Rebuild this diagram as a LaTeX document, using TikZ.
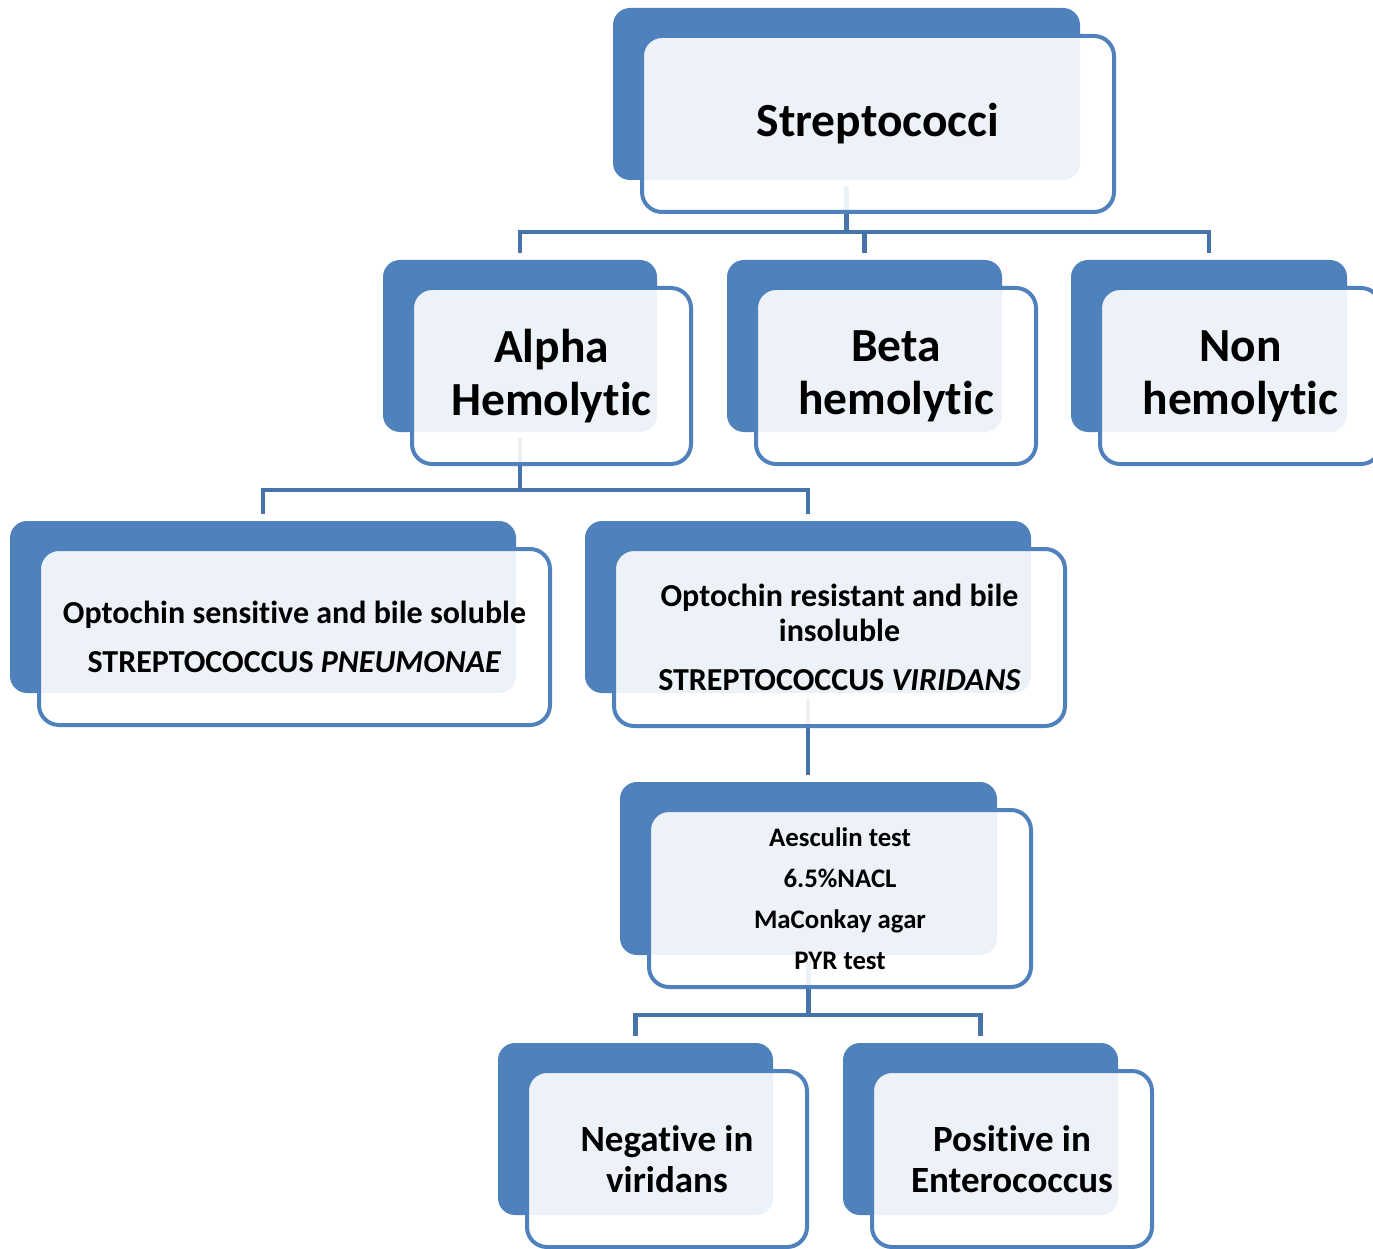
\documentclass[tikz,border=0pt]{standalone}
\usepackage{fontspec}
\setmainfont{Carlito}[RawFeature={-liga}]
\definecolor{accblue}{HTML}{4F81BD}
\definecolor{connblue}{HTML}{4673AA}
\begin{document}
\begin{tikzpicture}[x=1pt,y=-1pt,
  backbox/.style={fill=accblue, rounded corners=17pt, inner sep=0pt, outer sep=0pt, anchor=north west},
  frontbox/.style={draw=accblue, line width=4pt, fill=white, fill opacity=0.9, text opacity=1,
    rounded corners=20pt, inner sep=0pt, outer sep=0pt, anchor=north west, align=center, text=black},
  conn/.style={draw=connblue, line width=4.5pt},
  bigtxt/.style={font=\fontsize{47.5}{53}\selectfont\bfseries},
  midtxt/.style={font=\fontsize{32}{35}\selectfont\bfseries},
  smalltxt/.style={font=\fontsize{26.8}{41}\selectfont\bfseries},
  leaftxt/.style={font=\fontsize{37}{41}\selectfont\bfseries}]
\useasboundingbox (0,0) rectangle (1373,1249);
\clip (0,0) rectangle (1373,1249);
% back boxes
\node[backbox, minimum width=467pt, minimum height=172pt] (strB) at (613,8) {};
\node[backbox, minimum width=274pt, minimum height=172pt] (alphaB) at (383,260) {};
\node[backbox, minimum width=275pt, minimum height=172pt] (betaB) at (727,260) {};
\node[backbox, minimum width=276pt, minimum height=172pt] (nonB) at (1071,260) {};
\node[backbox, minimum width=506pt, minimum height=172pt] (pneB) at (10,521) {};
\node[backbox, minimum width=446pt, minimum height=172pt] (virB) at (585,521) {};
\node[backbox, minimum width=377pt, minimum height=173pt] (aesB) at (620,782) {};
\node[backbox, minimum width=275pt, minimum height=172pt] (negB) at (498,1043) {};
\node[backbox, minimum width=275pt, minimum height=172pt] (posB) at (843,1043) {};
% connectors
\coordinate (h1) at (0,232);
\coordinate (h2) at (0,490);
\coordinate (h3) at (0,1015);
\draw[conn] ([yshift=-6pt]strB.south) -- (strB.south |- h1);
\draw[conn] ([yshift=6.5pt]alphaB.north) -- (alphaB.north |- h1) -- (nonB.north |- h1) -- ([yshift=6.5pt]nonB.north);
\draw[conn] (betaB.north |- h1) -- ([yshift=6.5pt]betaB.north);
\draw[conn] ([yshift=-6pt]alphaB.south) -- (alphaB.south |- h2);
\draw[conn] ([yshift=7pt]pneB.north) -- (pneB.north |- h2) -- (virB.north |- h2) -- ([yshift=7pt]virB.north);
\draw[conn] ([yshift=-6pt]virB.south) -- ([yshift=7pt]virB.south |- aesB.north);
\draw[conn] ([yshift=-6pt]aesB.south) -- (aesB.south |- h3);
\draw[conn] ([yshift=7pt]negB.north) -- (negB.north |- h3) -- (posB.north |- h3) -- ([yshift=7pt]posB.north);
% front boxes
\node[frontbox, bigtxt, minimum width=472pt, minimum height=176pt] (str) at (642,36) {Streptococci};
\node[frontbox, bigtxt, minimum width=279pt, minimum height=176pt] (alpha) at (412,288) {Alpha\\Hemolytic};
\node[frontbox, bigtxt, minimum width=280pt, minimum height=176pt] (beta) at (756,288) {Beta\\hemolytic};
\node[frontbox, bigtxt, minimum width=281pt, minimum height=176pt] (non) at (1100,288) {Non\\hemolytic};
\node[frontbox, midtxt, minimum width=511pt, minimum height=176pt] (pne) at (39,549) {Optochin sensitive and bile soluble\\[14pt]STREPTOCOCCUS \textit{PNEUMONAE}};
\node[frontbox, midtxt, minimum width=451pt, minimum height=177pt] (vir) at (614,549) {Optochin resistant and bile\\insoluble\\[14pt]STREPTOCOCCUS \textit{VIRIDANS}};
\node[frontbox, smalltxt, minimum width=382pt, minimum height=177pt] (aes) at (649,810) {Aesculin test\\6.5\%NACL\\MaConkay agar\\PYR test};
\node[frontbox, leaftxt, minimum width=280pt, minimum height=176pt] (neg) at (527,1071) {Negative in\\viridans};
\node[frontbox, leaftxt, minimum width=280pt, minimum height=176pt] (pos) at (872,1071) {Positive in\\Enterococcus};
\end{tikzpicture}
\end{document}
